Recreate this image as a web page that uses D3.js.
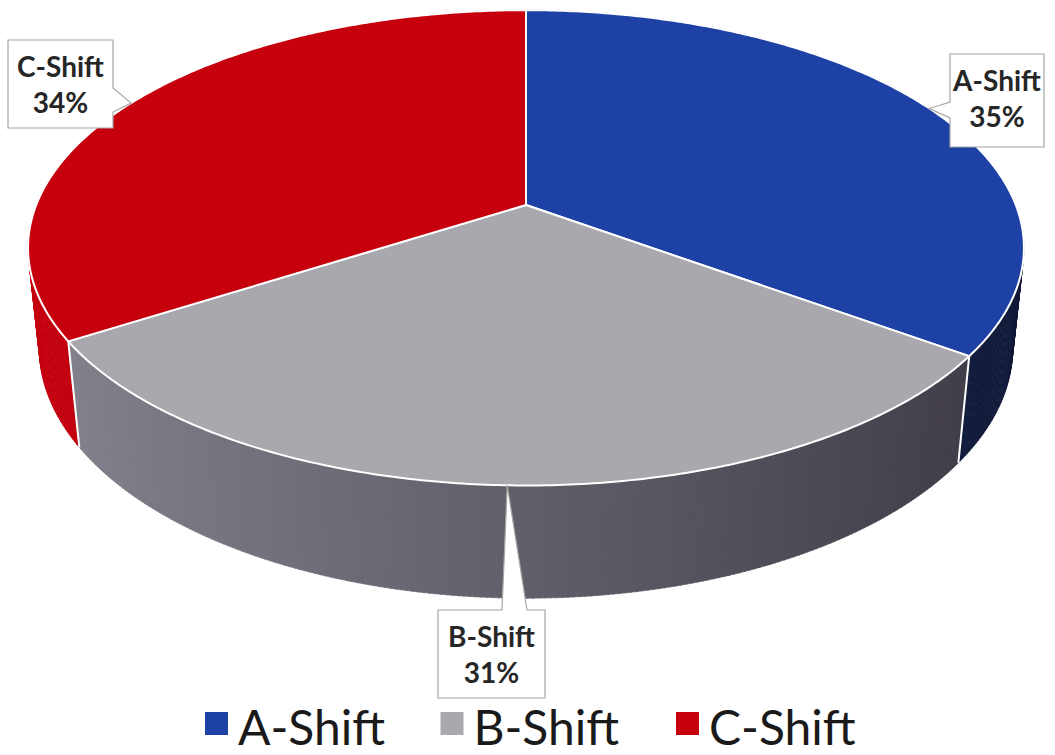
<!DOCTYPE html>
<html>
<head>
<meta charset="utf-8">
<script src="https://cdn.jsdelivr.net/npm/d3@7"></script>
<style>
  body { margin: 0; background: #fff; }
  svg { display: block; }
</style>
</head>
<body>
<script>
const categories = ["A-Shift", "B-Shift", "C-Shift"];
const values = [35, 31, 34];
const topColors = ["#1e41a6", "#a8a8ae", "#c7000d"];
const wallLight = ["#1f2c66", "#878792", "#c6000f"];
const wallDark = ["#121a38", "#3a3641", "#8e0008"];

// callout boxes (layout only)
const boxX = [950, 438, 8];
const boxY = [54, 610, 40];
const boxW = [94, 107, 105];
const boxH = [93, 88, 88];

const width = 1055, height = 755;

const svg = d3.select("body").append("svg")
  .attr("width", width)
  .attr("height", height);

// simple perspective camera looking down on the pie
const F = 2400, D = 4.9, H = 0.234;
const elev = 28 * Math.PI / 180;
const sinE = Math.sin(elev), cosE = Math.cos(elev);
const cx = 526, cy = 205;

const project = (x, y, z) => {
  const depth = D + z * cosE - y * sinE;
  const up = y * cosE + z * sinE;
  return [cx + F * x / depth, cy - F * up / depth];
};
const rim = (a, y) => project(Math.sin(a), y, Math.cos(a));

const pie = d3.pie().sort(null).value((d) => d);
const arcs = pie(values);

const line = d3.line();

/* ------- OUTER WALLS -------*/
let quads = [];
arcs.forEach((d, i) => {
  const n = Math.ceil((d.endAngle - d.startAngle) / 0.01);
  const step = (d.endAngle - d.startAngle) / n;
  const shade = d3.scaleLinear().domain([-1, 1]).range([wallLight[i], wallDark[i]]);
  for (let k = 0; k < n; k++) {
    const a1 = d.startAngle + k * step;
    const a2 = a1 + step;
    const mid = (a1 + a2) / 2;
    quads.push({
      z: Math.cos(mid),
      color: shade(Math.sin(mid)),
      pts: [rim(a1, 0), rim(a2 + 0.002, 0), rim(a2 + 0.002, -H), rim(a1, -H)],
    });
  }
});
quads.sort((a, b) => b.z - a.z);

svg.append("g").attr("class", "walls")
  .selectAll("path")
  .data(quads)
  .enter()
  .append("path")
  .attr("d", (q) => line(q.pts) + "Z")
  .attr("fill", (q) => q.color)
  .attr("stroke", (q) => q.color)
  .attr("stroke-width", 0.6);

// white edges between slices on the visible wall
svg.append("g").attr("class", "wall-edges")
  .selectAll("path")
  .data(arcs.map((d) => d.startAngle).filter((a) => Math.cos(a) < -0.2))
  .enter()
  .append("path")
  .attr("d", (a) => line([rim(a, 0), rim(a, -H)]))
  .attr("stroke", "#fff")
  .attr("stroke-width", 2);

/* ------- TOP FACES -------*/
svg.append("g").attr("class", "tops")
  .selectAll("path")
  .data(arcs)
  .enter()
  .append("path")
  .attr("d", (d) => {
    const pts = [project(0, 0, 0)];
    const n = Math.ceil((d.endAngle - d.startAngle) / 0.01);
    for (let k = 0; k <= n; k++) {
      pts.push(rim(d.startAngle + (k / n) * (d.endAngle - d.startAngle), 0));
    }
    return line(pts) + "Z";
  })
  .attr("fill", (d, i) => topColors[i])
  .attr("stroke", "#fff")
  .attr("stroke-width", 2)
  .attr("stroke-linejoin", "round");

/* ------- CALLOUT LABELS -------*/
const total = d3.sum(values);
const callouts = svg.append("g").attr("class", "callouts");

arcs.forEach((d, i) => {
  const tip = rim((d.startAngle + d.endAngle) / 2, 0);
  const x0 = boxX[i], y0 = boxY[i], x1 = x0 + boxW[i], y1 = y0 + boxH[i];
  let pts;
  if (tip[0] > x1) {
    // pointer on right edge
    pts = [[x0, y0], [x1, y0], [x1, y0 + 48], tip, [x1, y0 + 72], [x1, y1], [x0, y1]];
  } else if (tip[0] < x0) {
    // pointer on left edge
    pts = [[x0, y0], [x1, y0], [x1, y1], [x0, y1], [x0, y0 + 64], tip, [x0, y0 + 48]];
  } else {
    // pointer on top edge
    pts = [[x0, y0], [x0 + 64, y0], tip, [x0 + 89, y0], [x1, y0], [x1, y1], [x0, y1]];
  }
  callouts.append("path")
    .attr("d", line(pts) + "Z")
    .attr("fill", "#fff")
    .attr("stroke", "#a6a6a6")
    .attr("stroke-width", 1.2);

  const t = callouts.append("text")
    .attr("x", (x0 + x1) / 2)
    .attr("text-anchor", "middle")
    .style("font-family", "Lato, 'Open Sans', sans-serif")
    .style("font-weight", "bold")
    .style("font-size", "28px")
    .attr("fill", "#262626");
  t.append("tspan").attr("x", (x0 + x1) / 2).attr("y", y0 + 37).text(categories[i]);
  t.append("tspan").attr("x", (x0 + x1) / 2).attr("y", y0 + 73)
    .text(Math.round((d.data / total) * 100) + "%");
});

/* ------- LEGEND -------*/
const legendX = d3.scalePoint().domain(categories).range([205, 676]);
const legend = svg.append("g").attr("class", "legend")
  .selectAll("g")
  .data(categories)
  .enter()
  .append("g")
  .attr("transform", (c) => "translate(" + legendX(c) + ",0)");

legend.append("rect")
  .attr("x", 0)
  .attr("y", 712)
  .attr("width", 23)
  .attr("height", 23)
  .attr("fill", (c, i) => topColors[i]);

legend.append("text")
  .attr("x", 33)
  .attr("y", 745)
  .style("font-family", "Lato, 'Open Sans', sans-serif")
  .style("font-size", "48px")
  .attr("fill", "#1a1a1a")
  .text((c) => c);
</script>
</body>
</html>
